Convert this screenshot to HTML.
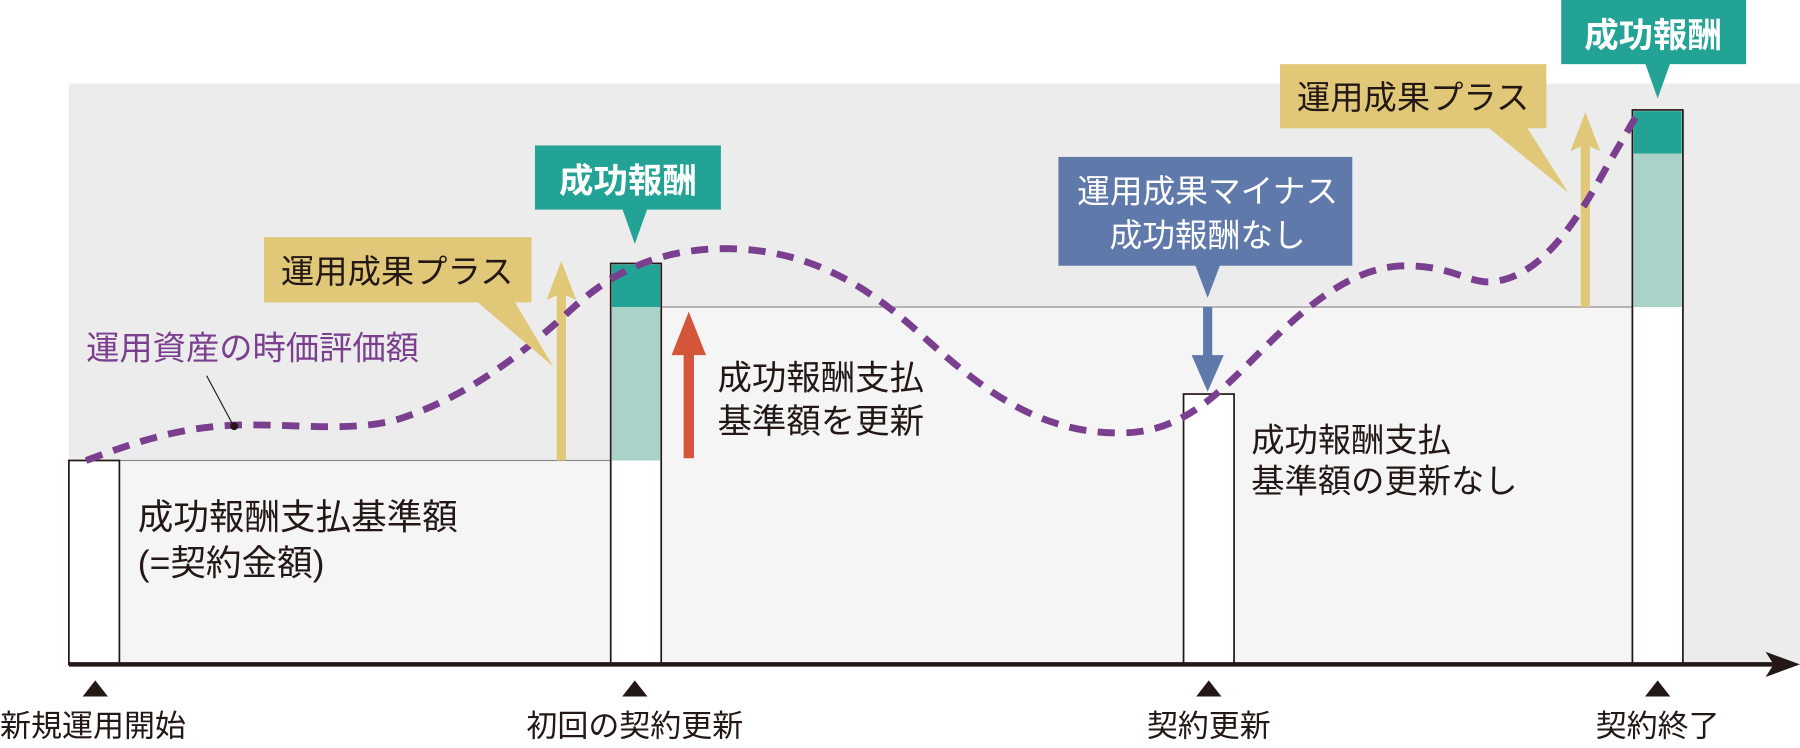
<!DOCTYPE html>
<html><head><meta charset="utf-8"><style>
html,body{margin:0;padding:0;background:#fff;width:1800px;height:748px;overflow:hidden}
svg{display:block}
text{font-family:"Liberation Sans","Noto Sans CJK JP",sans-serif}
</style></head><body>
<svg width="1800" height="748" viewBox="0 0 1568 653" preserveAspectRatio="none">
<rect x="60" y="73" width="1508" height="507" fill="#ececec"/>
<rect x="60" y="402" width="472" height="178" fill="#f5f5f5" stroke="#888" stroke-width="1"/>
<rect x="576" y="268" width="846" height="312" fill="#f5f5f5" stroke="#888" stroke-width="1"/>
<rect x="60" y="402" width="44" height="178" fill="#fff" stroke="#231815" stroke-width="1.5"/>
<rect x="532" y="230" width="44" height="350" fill="#fff" stroke="#231815" stroke-width="1.5"/>
<rect x="533" y="268" width="42" height="134" fill="#a9d2c9"/>
<rect x="533" y="231" width="42" height="37" fill="#23a396"/>
<rect x="1031" y="344" width="44" height="236" fill="#fff" stroke="#231815" stroke-width="1.5"/>
<rect x="1422" y="96" width="44" height="484" fill="#fff" stroke="#231815" stroke-width="1.5"/>
<rect x="1423" y="134" width="42" height="134" fill="#a9d2c9"/>
<rect x="1423" y="97" width="42" height="37" fill="#23a396"/>
<line x1="60" y1="580" x2="1545" y2="580" stroke="#231815" stroke-width="4"/>
<polygon points="1538,569 1568,580 1538,591 1545,580" fill="#231815"/>
<g fill="#231815">
<polygon points="72,608 94,608 83,594"/>
<polygon points="542,608 564,608 553,594"/>
<polygon points="1042,608 1064,608 1053,594"/>
<polygon points="1433,608 1455,608 1444,594"/>
</g>
<g font-size="27" fill="#231815" text-anchor="middle">
<text x="0" y="643" text-anchor="start">新規運用開始</text>
<text x="553" y="643">初回の契約更新</text>
<text x="1053" y="643">契約更新</text>
<text x="1444" y="643">契約終了</text>
</g>
<line x1="489" y1="402" x2="489" y2="255" stroke="#e0c878" stroke-width="8"/>
<polygon points="476,262 489,228 502,262 489,256" fill="#e0c878"/>
<line x1="1381" y1="268" x2="1381" y2="125" stroke="#e0c878" stroke-width="8"/>
<polygon points="1368,132 1381,98 1394,132 1381,126" fill="#e0c878"/>
<path d="M75,402 C120,385 160,372 210,371 C260,370 310,378 350,365 C410,345 460,305 500,268 C540,232 580,218 630,217 C700,217 750,245 800,290 C850,335 900,378 975,378 C1030,378 1060,345 1100,305 C1140,265 1180,232 1225,232 C1265,232 1280,248 1300,246 C1340,242 1370,200 1400,145 L1425,102" fill="none" stroke="#7b3f8f" stroke-width="6" stroke-dasharray="15,10"/>
<text x="75" y="314" font-size="29" fill="#7b3f8f">運用資産の時価評価額</text>
<line x1="180" y1="328" x2="203" y2="371" stroke="#231815" stroke-width="1"/>
<circle cx="204" cy="372" r="3.5" fill="#231815"/>
<rect x="230" y="207" width="233" height="57" fill="#e0c878"/>
<polygon points="415,263 448,263 482,320" fill="#e0c878"/>
<text x="346" y="247" font-size="29" fill="#231815" text-anchor="middle">運用成果プラス</text>
<rect x="1115" y="56" width="232" height="56" fill="#e0c878"/>
<polygon points="1296,111 1330,111 1366,168" fill="#e0c878"/>
<text x="1231" y="95" font-size="29" fill="#231815" text-anchor="middle">運用成果プラス</text>
<rect x="466" y="127" width="162" height="56" fill="#23a396"/>
<polygon points="542,182 564,182 553,213" fill="#23a396"/>
<text x="547" y="168" font-size="30" font-weight="bold" fill="#fff" text-anchor="middle">成功報酬</text>
<rect x="1360" y="0" width="161" height="56" fill="#23a396"/>
<polygon points="1433,55 1455,55 1444,86" fill="#23a396"/>
<text x="1440" y="41" font-size="30" font-weight="bold" fill="#fff" text-anchor="middle">成功報酬</text>
<line x1="600" y1="400" x2="600" y2="300" stroke="#d4553a" stroke-width="9"/>
<polygon points="585,310 600,272 615,310" fill="#d4553a"/>
<text x="625" y="340" font-size="30" fill="#231815">成功報酬支払</text>
<text x="625" y="378" font-size="30" fill="#231815">基準額を更新</text>
<rect x="922" y="137" width="256" height="95" fill="#6079ab"/>
<polygon points="1041,231 1063,231 1052,260" fill="#6079ab"/>
<text x="1052" y="177" font-size="28.5" fill="#fff" text-anchor="middle">運用成果マイナス</text>
<text x="1052" y="215" font-size="28.5" fill="#fff" text-anchor="middle">成功報酬なし</text>
<line x1="1052" y1="268" x2="1052" y2="318" stroke="#6079ab" stroke-width="8"/>
<polygon points="1038,310 1052,342 1066,310" fill="#6079ab"/>
<text x="1090" y="394" font-size="29" fill="#231815">成功報酬支払</text>
<text x="1090" y="430" font-size="29" fill="#231815">基準額の更新なし</text>
<text x="120" y="462" font-size="31" fill="#231815">成功報酬支払基準額</text>
<text x="120" y="502" font-size="31" fill="#231815">(=契約金額)</text>
</svg>
</body></html>
